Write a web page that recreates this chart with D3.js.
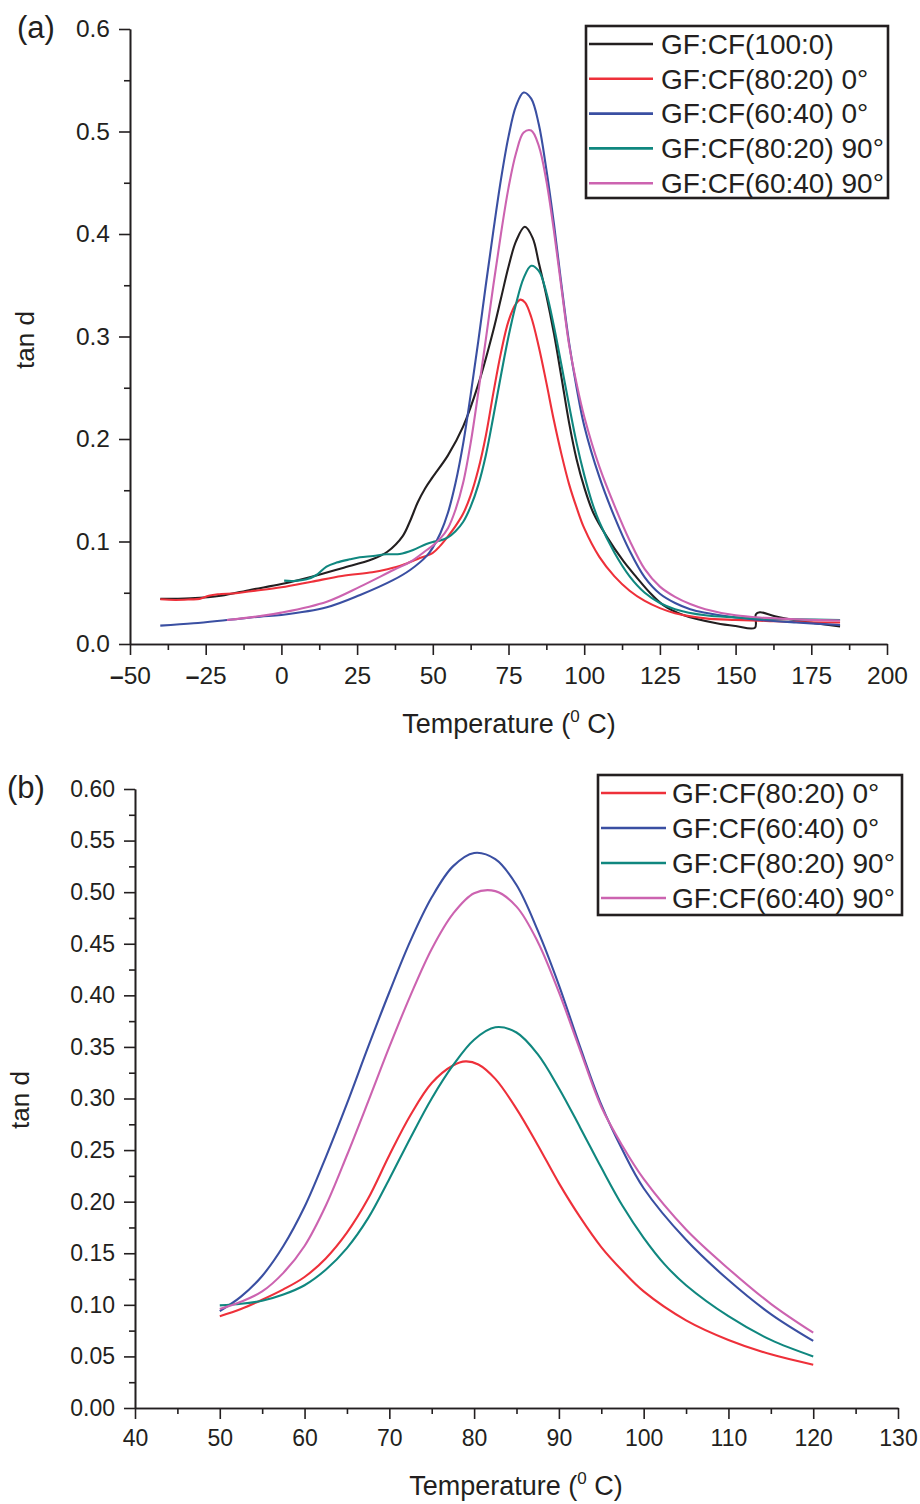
<!DOCTYPE html>
<html>
<head>
<meta charset="utf-8">
<script src="https://cdn.jsdelivr.net/npm/d3@7"></script>
<style>
    body { margin: 0; background: #fff; }
    svg text { font-family: "Liberation Sans", Arial, Helvetica, sans-serif; fill: #231f20; }
    .axis path, .axis line { stroke: #231f20; stroke-width: 1.6; }
    .series { fill: none; stroke-width: 2.1; }
</style>
</head>
<body>
<svg id="chart" width="920" height="1504"></svg>
<script>
// [temperature (deg C), tan d]
const gf100_0 = [[-40,0.044],[-30,0.0445],[-20,0.047],[-10,0.053],[0,0.0585],[10,0.0657],[20,0.074],[30,0.0826],[35,0.090],[40,0.105],[42.5,0.12],[45,0.138],[47.5,0.152],[50,0.163],[55,0.184],[60,0.212],[65,0.253],[70,0.306],[72.5,0.337],[75,0.368],[77.5,0.393],[80.4,0.407],[83,0.396],[85,0.372],[87.5,0.34],[90,0.303],[92.5,0.26],[95,0.216],[97.5,0.18],[100,0.153],[103,0.128],[107.4,0.105],[112.9,0.081],[117.3,0.065],[121.7,0.05],[126.1,0.038],[132.7,0.0283],[143.7,0.0202],[150,0.0175],[156.4,0.0159],[156.7,0.029],[158,0.031],[163,0.027],[170,0.023],[177,0.02],[184.5,0.017]];
const gf80_20_0 = [[-40,0.0436],[-35,0.043],[-30,0.0435],[-27,0.044],[-24,0.047],[-21,0.0485],[-15,0.0495],[-10,0.0515],[0,0.0553],[10,0.0608],[20,0.0664],[30,0.070],[35,0.073],[40,0.077],[45,0.083],[50,0.089],[52.5,0.096],[55,0.105],[57.5,0.115],[60,0.127],[62.5,0.145],[65,0.170],[67.5,0.203],[70,0.245],[72.5,0.284],[75,0.315],[77.5,0.332],[79,0.336],[80.5,0.333],[82.5,0.319],[85,0.29],[87.5,0.255],[90,0.218],[92.5,0.185],[95,0.156],[97.5,0.133],[100,0.113],[105,0.085],[110,0.066],[115,0.052],[120,0.042],[125,0.035],[130,0.030],[140,0.025],[150,0.0235],[160,0.0225],[170,0.0215],[184.5,0.021]];
const gf60_40_0 = [[-40,0.0179],[-29,0.0202],[-18,0.0234],[-7,0.0267],[0,0.0283],[15,0.0358],[26,0.0478],[37,0.0625],[42.5,0.0722],[48,0.086],[50,0.094],[52.5,0.108],[55,0.128],[57.5,0.157],[60,0.195],[62.5,0.243],[65,0.295],[67.5,0.35],[70,0.403],[72.5,0.453],[75,0.495],[77.5,0.525],[80,0.538],[82.5,0.532],[85,0.507],[87.5,0.463],[90,0.41],[92.5,0.35],[95,0.294],[97.5,0.25],[100,0.213],[105,0.163],[110,0.124],[115,0.091],[120,0.065],[125,0.049],[130,0.040],[135,0.034],[140,0.0305],[150,0.0258],[160,0.023],[170,0.021],[184.5,0.0185]];
const gf80_20_90 = [[0.9,0.0618],[4,0.0615],[8.3,0.0631],[11.6,0.0673],[14.9,0.0755],[18.2,0.0794],[22.6,0.0826],[25.9,0.0846],[30.3,0.0859],[34.7,0.0875],[39.1,0.0878],[43.5,0.0917],[47.9,0.0976],[50,0.0995],[52.5,0.101],[55,0.104],[57.5,0.11],[60,0.119],[62.5,0.134],[65,0.155],[67.5,0.184],[70,0.222],[72.5,0.262],[75,0.30],[77.5,0.332],[80,0.357],[82.5,0.369],[85,0.364],[87.5,0.343],[90,0.31],[92.5,0.272],[95,0.233],[97.5,0.196],[100,0.165],[102.5,0.139],[105,0.119],[110,0.089],[115,0.066],[120,0.050],[125,0.040],[130,0.034],[140,0.028],[150,0.026],[160,0.0245],[170,0.024],[184.5,0.0234]];
const gf60_40_90 = [[-18,0.0234],[-7,0.0273],[0,0.0306],[15,0.0413],[26,0.056],[37,0.0722],[42.5,0.080],[48,0.0917],[50,0.096],[52.5,0.103],[55,0.113],[57.5,0.131],[60,0.157],[62.5,0.196],[65,0.245],[67.5,0.297],[70,0.35],[72.5,0.40],[75,0.445],[77.5,0.479],[80,0.499],[82.5,0.501],[85,0.486],[87.5,0.452],[90,0.403],[92.5,0.347],[95,0.292],[97.5,0.254],[100,0.222],[105,0.173],[110,0.135],[115,0.101],[120,0.073],[125,0.056],[130,0.046],[135,0.039],[140,0.034],[150,0.028],[160,0.0255],[170,0.024],[184.5,0.023]];

const seriesNames = ["GF:CF(100:0)", "GF:CF(80:20) 0\u00b0", "GF:CF(60:40) 0\u00b0", "GF:CF(80:20) 90\u00b0", "GF:CF(60:40) 90\u00b0"];
const seriesData = [gf100_0, gf80_20_0, gf60_40_0, gf80_20_90, gf60_40_90];
const seriesColors = ["#231f20", "#ee303a", "#3a4fa2", "#10877f", "#cc63b0"];

const xTicksA = d3.range(-50, 201, 25);
const yTicksA = d3.range(0, 0.61, 0.1);
const xTicksB = d3.range(40, 131, 10);
const yTicksB = d3.range(0, 0.601, 0.05);

const svg = d3.select("#chart");

function drawPanel(opt) {
    let g = svg.append("g");
    let x = d3.scaleLinear().domain(opt.xDomain).range(opt.xRange);
    let y = d3.scaleLinear().domain([0, 0.6]).range(opt.yRange);

    // minor ticks first, then the major axis on top
    g.append("g").attr("class", "axis")
        .attr("transform", "translate(0," + opt.yRange[0] + ")")
        .call(d3.axisBottom(x).tickValues(opt.xMinor).tickSize(6).tickSizeOuter(0).tickFormat(""));
    g.append("g").attr("class", "axis")
        .attr("transform", "translate(" + opt.xRange[0] + ",0)")
        .call(d3.axisLeft(y).tickValues(opt.yMinor).tickSize(6).tickSizeOuter(0).tickFormat(""));

    let xAxis = g.append("g").attr("class", "axis")
        .attr("transform", "translate(0," + opt.yRange[0] + ")")
        .call(d3.axisBottom(x).tickValues(opt.xTicks).tickSize(11).tickSizeOuter(0).tickPadding(opt.xPad));
    xAxis.selectAll("text").attr("font-size", opt.tickFont).text(null)
        .each(function(d) {
            let t = d3.select(this);
            if (d < 0) {
                t.append("tspan").attr("font-weight", "bold").text("\u2013");
                t.append("tspan").text(Math.abs(d));
            } else {
                t.text(d);
            }
        });

    let yAxis = g.append("g").attr("class", "axis")
        .attr("transform", "translate(" + opt.xRange[0] + ",0)")
        .call(d3.axisLeft(y).tickValues(opt.yTicks).tickSize(11).tickSizeOuter(0).tickPadding(9).tickFormat(d3.format(opt.yFormat)));
    yAxis.selectAll("text").attr("font-size", opt.tickFont);
    g.selectAll(".axis .domain").attr("stroke-width", 1.8);

    // axis titles
    let xt = g.append("text").attr("x", opt.xTitle[0]).attr("y", opt.xTitle[1])
        .attr("text-anchor", "middle").attr("font-size", 27);
    xt.append("tspan").text("Temperature (");
    xt.append("tspan").attr("font-size", 17).attr("dy", -11).text("0");
    xt.append("tspan").attr("dy", 11).text(" C)");

    g.append("text").attr("transform", "translate(" + opt.yTitle[0] + "," + opt.yTitle[1] + ") rotate(-90)")
        .attr("text-anchor", "middle").attr("font-size", 26).text("tan d");

    g.append("text").attr("x", opt.label[0]).attr("y", opt.label[1])
        .attr("font-size", 31).text(opt.labelText);

    // curves
    let line = d3.line()
        .x(function(d) { return x(d[0]); })
        .y(function(d) { return y(d[1]); })
        .curve(d3.curveCatmullRom.alpha(0.5));
    g.selectAll("path.series").data(opt.series).enter()
        .append("path")
            .attr("class", "series")
            .attr("stroke", function(i) { return seriesColors[i]; })
            .attr("d", function(i) { return line(seriesData[i].filter(opt.keep)); });

    // legend
    let lg = g.append("g");
    lg.append("rect").attr("x", opt.legend.x).attr("y", opt.legend.y)
        .attr("width", opt.legend.w).attr("height", opt.legend.h)
        .attr("fill", "#fff").attr("stroke", "#231f20").attr("stroke-width", 2.6);
    let rows = lg.selectAll("g.row").data(opt.series).enter().append("g")
        .attr("transform", function(i, k) { return "translate(0," + (opt.legend.row0 + k * opt.legend.step) + ")"; });
    rows.append("line")
        .attr("x1", opt.legend.lx1).attr("x2", opt.legend.lx2)
        .attr("stroke", function(i) { return seriesColors[i]; }).attr("stroke-width", 2.6);
    rows.append("text").attr("x", opt.legend.tx).attr("y", 9.8)
        .attr("font-size", 28).text(function(i) { return seriesNames[i]; });
}

drawPanel({
    xDomain: [-50, 200], xRange: [130, 887], yRange: [644, 29],
    xTicks: xTicksA, yTicks: yTicksA,
    xMinor: d3.range(-37.5, 200, 25), yMinor: d3.range(0.05, 0.6, 0.1),
    xPad: 12, tickFont: 24.5, yFormat: ".1f",
    xTitle: [509, 733], yTitle: [34, 340], label: [17, 38], labelText: "(a)",
    series: [0, 1, 2, 3, 4],
    keep: function() { return true; },
    legend: {x: 586, y: 26, w: 302, h: 172, row0: 44, step: 34.8, lx1: 589, lx2: 653, tx: 661}
});

drawPanel({
    xDomain: [40, 130], xRange: [135, 898], yRange: [1408, 789],
    xTicks: xTicksB, yTicks: yTicksB,
    xMinor: d3.range(45, 130, 10), yMinor: d3.range(0.025, 0.6, 0.05),
    xPad: 11, tickFont: 23, yFormat: ".2f",
    xTitle: [516, 1495], yTitle: [29, 1100], label: [7, 798], labelText: "(b)",
    series: [1, 2, 3, 4],
    keep: function(d) { return d[0] >= 50 && d[0] <= 120; },
    legend: {x: 598, y: 775, w: 304, h: 140, row0: 793, step: 35, lx1: 601, lx2: 666, tx: 672}
});
</script>
</body>
</html>
